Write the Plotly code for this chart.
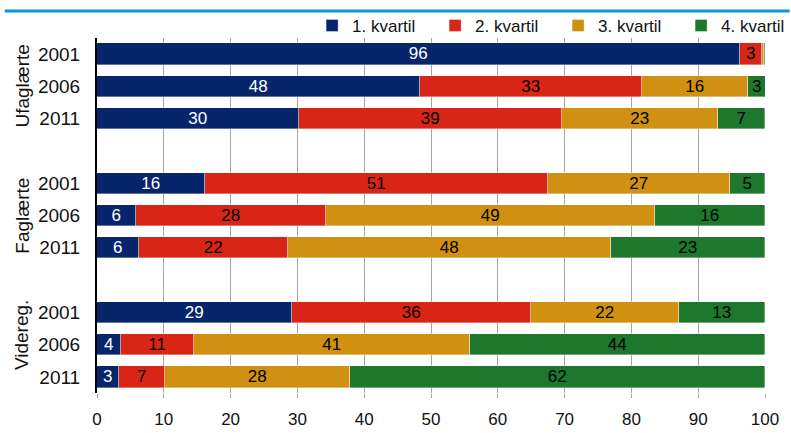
import plotly.graph_objects as go

# Rows (top to bottom) with a blank slot between education groups
groups = ["Ufaglærte", "Faglærte", "Videreg."]
years = ["2001", "2006", "2011"]
series_names = ["1. kvartil", "2. kvartil", "3. kvartil", "4. kvartil"]
colors = ["#06256b", "#d92516", "#d09012", "#1d772c"]
text_colors = ["white", "black", "black", "black"]

# Share (%) in each income quartile, one list per quartile, rows in plotting order
q1 = [96.3, 48.4, 30.2, 16.2, 5.8, 6.3, 29.2, 3.6, 3.3]
q2 = [3.2, 33.2, 39.4, 51.3, 28.5, 22.3, 35.8, 10.9, 6.9]
q3 = [0.3, 15.9, 23.4, 27.3, 49.2, 48.3, 22.1, 41.3, 27.7]
q4 = [0.2, 2.6, 7.0, 5.2, 16.5, 23.1, 12.9, 44.2, 62.1]

x_ticks = list(range(0, 101, 10))

FONT = "Liberation Sans, Arial, sans-serif"

slots = []
row_labels = []
for gi, g in enumerate(groups):
    for yi, yr in enumerate(years):
        slots.append(gi * 4 + yi)
        row_labels.append(yr)

fig = go.Figure()
for name, vals, col, tcol in zip(series_names, [q1, q2, q3, q4], colors, text_colors):
    fig.add_trace(go.Bar(
        name=name,
        x=vals,
        y=slots,
        orientation="h",
        width=0.66,
        marker=dict(color=col, line=dict(color="rgba(255,255,255,0.6)", width=0.6)),
        text=[f"{v:.0f}" if v >= 1.5 else "" for v in vals],
        textposition="inside",
        insidetextanchor="middle",
        textangle=0,
        insidetextfont=dict(family=FONT, size=17, color=tcol),
        constraintext="none",
        hoverinfo="skip",
    ))

# group captions, rotated beside the year labels
group_centers = [1, 5, 8.7]
for g, c in zip(groups, group_centers):
    fig.add_annotation(
        text=g, x=-0.112, xref="paper", y=c, yref="y",
        textangle=-90, showarrow=False,
        font=dict(family=FONT, size=19, color="#111111"),
        xanchor="center", yanchor="middle",
    )

# thin blue rule across the top
fig.add_shape(type="line", xref="paper", yref="paper",
              x0=-0.138, x1=1.037, y0=1.076, y1=1.076,
              line=dict(color="#0a96dc", width=3))

fig.update_layout(
    width=791, height=433,
    margin=dict(l=97, r=26, t=38, b=40, autoexpand=False),
    paper_bgcolor="white", plot_bgcolor="white",
    barmode="stack",
    bargap=0,
    font=dict(family=FONT, size=17, color="#111111"),
    showlegend=True,
    legend=dict(
        orientation="h", x=0.322, xanchor="left", y=1.034, yanchor="middle",
        font=dict(family=FONT, size=17, color="#111111"),
        entrywidth=78, entrywidthmode="pixels",
        itemwidth=30, tracegroupgap=0,
        traceorder="normal",
        bgcolor="rgba(0,0,0,0)",
    ),
    xaxis=dict(
        range=[0, 100], tickvals=x_ticks, ticktext=[str(v) for v in x_ticks],
        showgrid=True, gridcolor="#a6a6a6", gridwidth=1.3,
        zeroline=False, showline=False,
        ticks="outside", ticklen=4, tickcolor="#a6a6a6", tickwidth=1.3,
        tickfont=dict(family=FONT, size=17, color="#111111"),
        ticklabelstandoff=7,
        fixedrange=True,
    ),
    yaxis=dict(
        range=[10.5, -0.5], tickvals=slots, ticktext=row_labels,
        showgrid=False, zeroline=False,
        showline=True, linecolor="black", linewidth=2,
        ticks="", ticklabelstandoff=11,
        tickfont=dict(family=FONT, size=19, color="#111111"),
        fixedrange=True,
    ),
)

fig.write_html("out.html")
